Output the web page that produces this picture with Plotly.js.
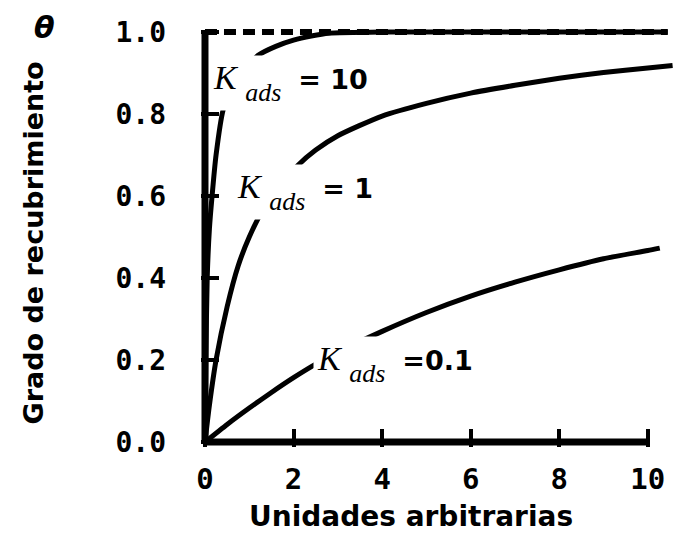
<!DOCTYPE html>
<html>
<head>
<meta charset="utf-8">
<script src="https://cdn.plot.ly/plotly-3.0.1.min.js"></script>
<style>html,body{margin:0;padding:0;background:#fff;}#chart{width:691px;height:535px;}</style>
</head>
<body>
<div id="chart"></div>
<script>
// Values
const xK10 = [0, 0.02, 0.05, 0.1, 0.16, 0.25, 0.41, 0.6, 0.8, 1.0, 1.2, 1.6, 2.0, 2.4, 2.8, 4, 6, 8, 10, 10.45];
const yK10 = [0, 0.2, 0.4, 0.52, 0.6, 0.7, 0.81, 0.86, 0.895, 0.92, 0.943, 0.965, 0.98, 0.99, 0.997, 1, 1, 1, 1, 1];

const xK1 = [0, 0.1, 0.25, 0.5, 0.75, 1, 1.3, 1.7, 2.1, 2.5, 3, 4, 5, 6, 7, 8, 9, 10, 10.56];
const yK1 = [0, 0.09, 0.2, 0.33, 0.43, 0.5, 0.565, 0.625, 0.675, 0.712, 0.747, 0.795, 0.826, 0.851, 0.87, 0.887, 0.901, 0.912, 0.918];

const xK01 = [0, 0.5, 1, 1.5, 2, 2.5, 3, 4, 5, 6, 7, 8, 9, 10, 10.27];
const yK01 = [0, 0.043, 0.083, 0.121, 0.157, 0.19, 0.219, 0.27, 0.316, 0.356, 0.39, 0.42, 0.447, 0.467, 0.473];

const xLimit = [0, 10.45];
const yLimit = [1, 1];

const xTicks = [0, 2, 4, 6, 8, 10];
const yTicks = [0, 0.2, 0.4, 0.6, 0.8, 1.0];
const yTickText = ['0.0', '0.2', '0.4', '0.6', '0.8', '1.0'];

const kValues = ['= 10', '= 1', '=0.1'];
const xTitle = 'Unidades arbitrarias';
const yTitle = 'Grado de recubrimiento';
const thetaSym = 'θ';

function kLabel(val) {
  return '<i>K</i> <sub><sub><span style="font-size:26px"><i>ads</i></span></sub></sub>  ' +
         '<span style="font-family:\'DejaVu Sans\';font-weight:bold;font-size:27px">' + val + '</span>';
}

const lineStyle = {color: '#000', width: 5, shape: 'spline', smoothing: 0.6};

const traces = [
  {x: xLimit, y: yLimit, mode: 'lines', line: {color: '#000', width: 6, dash: '12px,7px'}, hoverinfo: 'skip', showlegend: false},
  {x: xK10, y: yK10, mode: 'lines', line: lineStyle, name: 'K=10', hoverinfo: 'skip', showlegend: false},
  {x: xK1, y: yK1, mode: 'lines', line: lineStyle, name: 'K=1', hoverinfo: 'skip', showlegend: false},
  {x: xK01, y: yK01, mode: 'lines', line: lineStyle, name: 'K=0.1', hoverinfo: 'skip', showlegend: false}
];

const tickFontX = {family: 'DejaVu Sans Mono', size: 29, color: '#000', weight: 'bold'};
const tickFontY = {family: 'DejaVu Sans Mono', size: 28, color: '#000', weight: 'bold'};
const labelFont = {family: 'Liberation Serif', size: 34, color: '#000'};

const layout = {
  width: 691, height: 535,
  margin: {l: 201, r: 10, t: 25, b: 88, pad: 0},
  paper_bgcolor: '#fff', plot_bgcolor: '#fff',
  showlegend: false,
  xaxis: {
    range: [-0.09, 10.75], tickvals: xTicks, ticks: 'inside', ticklen: 18, tickwidth: 4, tickcolor: '#000',
    showgrid: false, zeroline: false, showline: false, tickfont: tickFontX, ticklabelstandoff: 12, fixedrange: true
  },
  yaxis: {
    range: [-0.012, 1.017], tickvals: yTicks, ticktext: yTickText, ticks: 'inside', ticklen: 18, tickwidth: 4, tickcolor: '#000',
    showgrid: false, zeroline: false, showline: false, tickfont: tickFontY, ticklabelstandoff: 34, fixedrange: true
  },
  shapes: [
    {type: 'line', xref: 'x', yref: 'y', x0: 0, x1: 10, y0: 0, y1: 0, line: {color: '#000', width: 7}, layer: 'above'},
    {type: 'line', xref: 'x', yref: 'y', x0: 0, x1: 0, y0: 0, y1: 1, line: {color: '#000', width: 7}, layer: 'above'}
  ],
  annotations: [
    {x: 1.92, y: 0.875, xref: 'x', yref: 'y', text: kLabel(kValues[0]), showarrow: false, bgcolor: '#fff', borderpad: 3,
     font: labelFont, xanchor: 'center', yanchor: 'middle'},
    {x: 2.26, y: 0.61, xref: 'x', yref: 'y', text: kLabel(kValues[1]), showarrow: false, bgcolor: '#fff', borderpad: 3,
     font: labelFont, xanchor: 'center', yanchor: 'middle'},
    {x: 4.3, y: 0.19, xref: 'x', yref: 'y', text: kLabel(kValues[2]), showarrow: false, bgcolor: '#fff', borderpad: 3,
     font: labelFont, xanchor: 'center', yanchor: 'middle'},
    {x: 0.438, y: -0.207, xref: 'paper', yref: 'paper', text: xTitle, showarrow: false, borderpad: 0,
     font: {family: 'DejaVu Sans', size: 28, color: '#000', weight: 'bold'}, xanchor: 'center', yanchor: 'bottom'},
    {x: -0.348, y: 0.4845, xref: 'paper', yref: 'paper', text: yTitle, showarrow: false, textangle: -90,
     font: {family: 'DejaVu Sans', size: 27, color: '#000', weight: 'bold'}, xanchor: 'center', yanchor: 'middle'},
    {x: -0.327, y: 0.994, xref: 'paper', yref: 'paper', text: '<i>' + thetaSym + '</i>', showarrow: false,
     font: {family: 'DejaVu Sans', size: 30, color: '#000', weight: 'bold'}, xanchor: 'center', yanchor: 'middle'}
  ]
};

Plotly.newPlot('chart', traces, layout, {displayModeBar: false, staticPlot: true});
</script>
</body>
</html>
